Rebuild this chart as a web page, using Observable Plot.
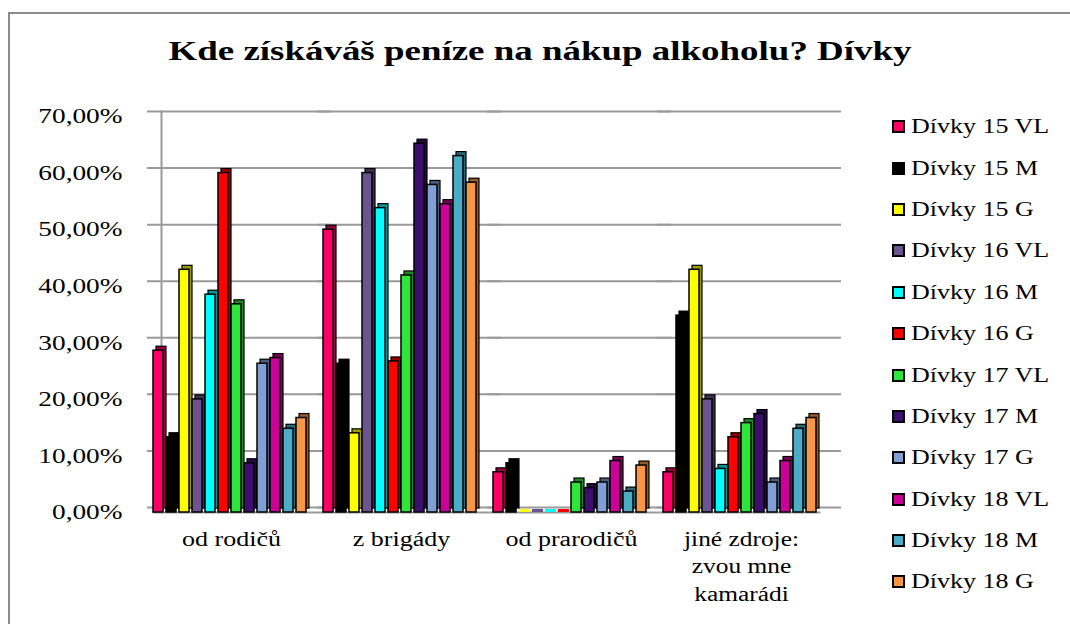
<!DOCTYPE html>
<html>
<head>
<meta charset="utf-8">
<script src="https://cdn.jsdelivr.net/npm/d3@7"></script>
<script src="https://cdn.jsdelivr.net/npm/@observablehq/plot@0.6"></script>
<style>
  html, body { margin: 0; padding: 0; background: #fff; }
  #wrap { position: relative; width: 1070px; height: 624px; overflow: hidden; font-family: "Liberation Serif", serif; }
  #frame { position: absolute; left: 8px; top: 12px; width: 1200px; height: 700px; border-left: 2px solid #8c8c8c; border-top: 2px solid #8c8c8c; }
  #title { position: absolute; left: 540px; top: 36px; white-space: nowrap; font-weight: bold; font-size: 27px; line-height: 30px; color: #000; transform-origin: 0 0; }
  #chart { position: absolute; left: 0; top: 100px; }
  #chart svg text { font-family: "Liberation Serif", serif !important; }
  #legend { position: absolute; left: 892px; top: 106px; }
  .li { display: flex; align-items: center; height: 41.4px; font-size: 20px; color: #000; white-space: nowrap; }
  .sw { width: 9px; height: 9px; border: 2px solid #000; margin-right: 6px; box-sizing: content-box; flex: none; }
  .lt { display: inline-block; transform: scaleX(1.3); transform-origin: 0 50%; }
</style>
</head>
<body>
<div id="wrap">
  <div id="frame"></div>
  <div id="title">Kde získáváš peníze na nákup alkoholu? Dívky</div>
  <div id="chart"></div>
  <div id="legend"></div>
</div>
<script>
const categories = ["od rodičů", "z brigády", "od prarodičů", "jiné zdroje:\nzvou mne\nkamarádi"];
const series = ["Dívky 15 VL", "Dívky 15 M", "Dívky 15 G", "Dívky 16 VL", "Dívky 16 M", "Dívky 16 G",
                "Dívky 17 VL", "Dívky 17 M", "Dívky 17 G", "Dívky 18 VL", "Dívky 18 M", "Dívky 18 G"];
const colors = ["#ff0066", "#000000", "#ffff00", "#6b5490", "#00ffff", "#ff0000",
                "#2ee63a", "#3c0f6e", "#7f9fd5", "#cc0099", "#4bacc6", "#f79646"];
// values in percent, one array per category (in series order)
const odRodicu    = [28.6, 13.3, 42.9, 20.0, 38.5, 60.0, 36.8, 8.7, 26.3, 27.3, 14.8, 16.7];
const zBrigady    = [50.0, 26.3, 14.0, 60.0, 53.8, 26.7, 41.9, 65.2, 57.9, 54.5, 63.0, 58.3];
const odPrarodicu = [7.1, 8.7, 0, 0, 0, 0, 5.3, 4.3, 5.3, 9.1, 3.7, 8.3];
const jineZdroje  = [7.1, 34.8, 42.9, 20.0, 7.7, 13.3, 15.8, 17.4, 5.3, 9.1, 14.8, 16.7];
const yTicks = [0, 10, 20, 30, 40, 50, 60, 70];

const valueArrays = [odRodicu, zBrigady, odPrarodicu, jineZdroje];
const rows = [];
categories.forEach((c, i) => series.forEach((s, j) => rows.push({cat: c, series: s, value: valueArrays[i][j]})));

const fmt = d => d.toFixed(2).replace(".", ",") + "%";

const chart = Plot.plot({
  width: 870,
  height: 524,
  marginLeft: 140,
  marginRight: 38,
  marginTop: 16,
  marginBottom: 112,
  style: {fontFamily: "Liberation Serif, serif", fontSize: "19px", color: "#000", background: "transparent", overflow: "visible"},
  fx: {domain: categories, paddingInner: 0.08, paddingOuter: 0.065, axis: null, label: null},
  x: {domain: series, padding: 0, axis: null},
  y: {domain: [0, 70], axis: null, label: null},
  color: {domain: series, range: colors},
  marks: [
    Plot.gridY(yTicks, {dx: 8, dy: -5, insetLeft: -14, insetRight: -14, stroke: "#9a9a9a", strokeOpacity: 1, strokeWidth: 2}),
    Plot.frame({facet: "super", anchor: "left", dx: 8, dy: -5, stroke: "#9a9a9a", strokeWidth: 2}),
    Plot.frame({facet: "super", anchor: "bottom", stroke: "#9a9a9a", strokeWidth: 2}),
    Plot.text(yTicks, {fx: () => categories[0], y: d => d, text: fmt, frameAnchor: "left", textAnchor: "end", dx: -31, fontSize: 21}),
    // depth (side + top) of each column
    Plot.barY(rows, {fx: "cat", x: "series", y: "value", fill: "series", dx: 3, dy: -4, insetRight: 3, stroke: "#000", strokeWidth: 1.2}),
    Plot.barY(rows, {fx: "cat", x: "series", y: "value", fill: "#000", fillOpacity: 0.4, dx: 3, dy: -4, insetRight: 3}),
    // front face
    Plot.barY(rows, {fx: "cat", x: "series", y: "value", fill: "series", insetRight: 3, stroke: "#000", strokeWidth: 1.5}),
    // flat caps of empty columns
    Plot.tickY(rows, {filter: d => d.value === 0, fx: "cat", x: "series", y: "value", stroke: "series", strokeWidth: 3, dy: -2, insetRight: 2}),
    Plot.axisFx({anchor: "bottom", tickSize: 0, tickPadding: 14, fontSize: 20, lineHeight: 1.37, label: null})
  ]
});
document.getElementById("chart").appendChild(chart);

// horizontal stretch of SVG text, to match the wide lettering of the original
function stretch(el, k) {
  const len = el.getComputedTextLength();
  if (len > 0) {
    el.setAttribute("textLength", len * k);
    el.setAttribute("lengthAdjust", "spacingAndGlyphs");
  }
}
chart.querySelectorAll("text").forEach(t => {
  const spans = t.querySelectorAll("tspan");
  if (spans.length) spans.forEach(s => stretch(s, 1.27));
  else stretch(t, 1.3);
});

// title: stretch to the original width, centred
const title = document.getElementById("title");
const tw = title.getBoundingClientRect().width;
const k = 743 / tw;
title.style.transform = `translateX(${-743 / 2}px) scaleX(${k})`;

const legend = document.getElementById("legend");
series.forEach((s, i) => {
  const li = document.createElement("div");
  li.className = "li";
  const sw = document.createElement("span");
  sw.className = "sw";
  sw.style.background = colors[i];
  const lt = document.createElement("span");
  lt.className = "lt";
  lt.textContent = s;
  li.appendChild(sw);
  li.appendChild(lt);
  legend.appendChild(li);
});
</script>
</body>
</html>
